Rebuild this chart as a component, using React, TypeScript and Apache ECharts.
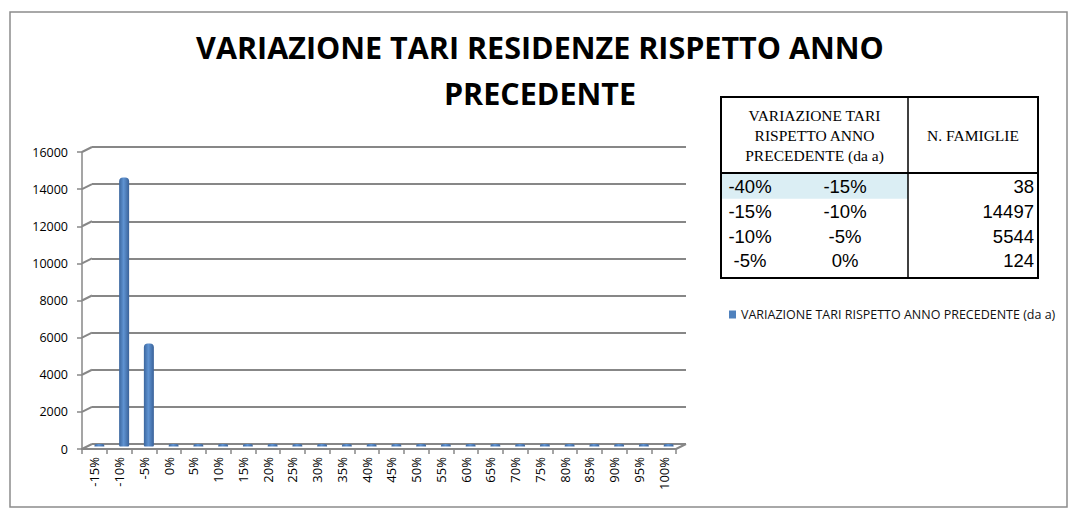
import { useEffect, useRef } from 'react'
import * as echarts from 'echarts'

// chart data
const categories = [
  '-15%', '-10%', '-5%', '0%', '5%', '10%', '15%', '20%', '25%', '30%', '35%', '40%',
  '45%', '50%', '55%', '60%', '65%', '70%', '75%', '80%', '85%', '90%', '95%', '100%',
]
const families = [38, 14497, 5544, 124, 0, 0, 0, 0, 0, 0, 0, 0, 0, 0, 0, 0, 0, 0, 0, 0, 0, 0, 0, 0]
const yTicks = [0, 2000, 4000, 6000, 8000, 10000, 12000, 14000, 16000]

// table data
const rangeFrom = ['-40%', '-15%', '-10%', '-5%']
const rangeTo = ['-15%', '-10%', '-5%', '0%']
const tableFamilies = [38, 14497, 5544, 124]

const seriesName = 'VARIAZIONE TARI RISPETTO ANNO PRECEDENTE (da a)'
const titleLines = ['VARIAZIONE TARI RESIDENZE RISPETTO ANNO', 'PRECEDENTE']

const SANS = '"Open Sans", sans-serif'
const GRAY = '#878787'

// layout: front plane (axes), middle plane (bars), back plane (walls)
const FRONT = { left: 82, top: 152, width: 594, height: 297 }
const DX = 10
const DY = -5

export default function App() {
  const chartRef = useRef<HTMLDivElement>(null)

  useEffect(() => {
    if (!chartRef.current) return
    const chart = echarts.init(chartRef.current, null, { renderer: 'svg' })

    const yMax = yTicks[yTicks.length - 1]
    const yInterval = yTicks[1] - yTicks[0]

    const option: echarts.EChartsOption = {
      animation: false,
      backgroundColor: '#fff',
      legend: {
        left: 724,
        top: 303,
        itemWidth: 7,
        itemHeight: 8,
        icon: 'rect',
        textStyle: { fontFamily: SANS, fontSize: 12.5, color: '#111' },
        data: [{ name: seriesName, itemStyle: { color: '#4f81bd' } }],
      },
      grid: [
        { ...FRONT },
        { left: FRONT.left + DX / 2, top: FRONT.top + DY / 2, width: FRONT.width, height: FRONT.height },
        { left: FRONT.left + DX, top: FRONT.top + DY, width: FRONT.width, height: FRONT.height },
      ],
      xAxis: [
        {
          type: 'category',
          gridIndex: 0,
          data: categories,
          axisLine: { lineStyle: { color: GRAY, width: 2 } },
          axisTick: { show: true, interval: 0, length: 5, lineStyle: { color: GRAY, width: 1.5 } },
          axisLabel: {
            interval: 0,
            rotate: 90,
            margin: 8,
            fontFamily: SANS,
            fontSize: 13,
            color: '#000',
          },
        },
        { type: 'category', gridIndex: 1, data: categories, show: false },
        { type: 'category', gridIndex: 2, data: categories, show: false },
      ],
      yAxis: [
        {
          type: 'value',
          gridIndex: 0,
          min: 0,
          max: yMax,
          interval: yInterval,
          splitLine: { show: false },
          axisLine: { show: true, lineStyle: { color: GRAY, width: 1.5 } },
          axisTick: { show: true, length: 5, lineStyle: { color: GRAY, width: 1.5 } },
          axisLabel: {
            margin: 14,
            fontFamily: SANS,
            fontSize: 12.5,
            color: '#000',
            formatter: (v: number) => String(v),
          },
        },
        {
          type: 'value',
          gridIndex: 1,
          min: 0,
          max: yMax,
          interval: yInterval,
          show: false,
          splitLine: { show: false },
        },
        {
          type: 'value',
          gridIndex: 2,
          min: 0,
          max: yMax,
          interval: yInterval,
          axisLine: { show: false },
          axisTick: { show: false },
          axisLabel: { show: false },
          splitLine: { show: true, lineStyle: { color: GRAY, width: 2 } },
        },
      ],
      series: [
        {
          name: seriesName,
          type: 'bar',
          xAxisIndex: 1,
          yAxisIndex: 1,
          data: families,
          barWidth: 10,
          barMinHeight: 2.5,
          itemStyle: {
            borderRadius: [4, 4, 1, 1],
            color: new echarts.graphic.LinearGradient(0, 0, 1, 0, [
              { offset: 0, color: '#3b669e' },
              { offset: 0.45, color: '#5f93d2' },
              { offset: 1, color: '#3a6299' },
            ]),
          },
        },
      ],
    }
    chart.setOption(option)

    // 3D connectors between front axis and back wall, from the axis scales
    const connectors: any[] = yTicks.map((v) => {
      const yF = chart.convertToPixel({ yAxisIndex: 0 }, v) as number
      const yB = chart.convertToPixel({ yAxisIndex: 2 }, v) as number
      return {
        type: 'line',
        shape: { x1: FRONT.left, y1: yF, x2: FRONT.left + DX, y2: yB },
        style: { stroke: GRAY, lineWidth: 2 },
      }
    })
    const y0F = chart.convertToPixel({ yAxisIndex: 0 }, 0) as number
    const y0B = chart.convertToPixel({ yAxisIndex: 2 }, 0) as number
    connectors.push({
      type: 'line',
      shape: {
        x1: FRONT.left + FRONT.width,
        y1: y0F,
        x2: FRONT.left + FRONT.width + DX,
        y2: y0B,
      },
      style: { stroke: GRAY, lineWidth: 2 },
    })

    // table
    const tL = 721
    const tR = 1038
    const tMid = 908
    const tTop = 97
    const tHead = 173
    const tBottom = 278
    const rowH = 24.8
    const table: any[] = [
      { type: 'rect', shape: { x: tL + 1, y: tHead + 1, width: tMid - tL - 1, height: rowH }, style: { fill: '#dbeef4' } },
      { type: 'rect', shape: { x: tL, y: tTop, width: tR - tL, height: tBottom - tTop }, style: { fill: 'none', stroke: '#000', lineWidth: 2 } },
      { type: 'line', shape: { x1: tL, y1: tHead, x2: tR, y2: tHead }, style: { stroke: '#000', lineWidth: 2 } },
      { type: 'line', shape: { x1: tMid, y1: tTop, x2: tMid, y2: tBottom }, style: { stroke: '#000', lineWidth: 1.5 } },
      {
        type: 'text',
        x: (tL + tMid) / 2,
        y: (tTop + tHead) / 2,
        style: {
          text: 'VARIAZIONE TARI\nRISPETTO ANNO\nPRECEDENTE (da a)',
          align: 'center',
          verticalAlign: 'middle',
          lineHeight: 20,
          font: '15.5px "Liberation Serif", serif',
          fill: '#000',
        },
      },
      {
        type: 'text',
        x: (tMid + tR) / 2,
        y: (tTop + tHead) / 2,
        style: { text: 'N. FAMIGLIE', align: 'center', verticalAlign: 'middle', font: '15.5px "Liberation Serif", serif', fill: '#000' },
      },
    ]
    rangeFrom.forEach((f, i) => {
      const cy = tHead + 1 + rowH * (i + 0.5)
      const font = '18.5px "Liberation Sans", Arial, sans-serif'
      table.push(
        { type: 'text', x: 750, y: cy, style: { text: f, align: 'center', verticalAlign: 'middle', font, fill: '#000' } },
        { type: 'text', x: 845, y: cy, style: { text: rangeTo[i], align: 'center', verticalAlign: 'middle', font, fill: '#000' } },
        { type: 'text', x: 1034, y: cy, style: { text: String(tableFamilies[i]), align: 'right', verticalAlign: 'middle', font, fill: '#000' } },
      )
    })

    chart.setOption({
      graphic: [
        {
          type: 'rect',
          shape: { x: 10, y: 12, width: 1057, height: 495 },
          style: { fill: 'none', stroke: '#8c8c8c', lineWidth: 1.5 },
          z: -1,
        },
        {
          type: 'text',
          x: 540,
          y: 24,
          style: {
            text: titleLines.join('\n'),
            align: 'center',
            verticalAlign: 'top',
            lineHeight: 46,
            font: `bold 30.5px ${SANS}`,
            fill: '#000',
          },
        },
        ...connectors,
        ...table,
      ],
    })

    return () => {
      chart.dispose()
    }
  }, [])

  return (
    <div
      ref={chartRef}
      style={{ position: 'fixed', left: 0, top: 0, width: '1087px', height: '523px' }}
    />
  )
}
